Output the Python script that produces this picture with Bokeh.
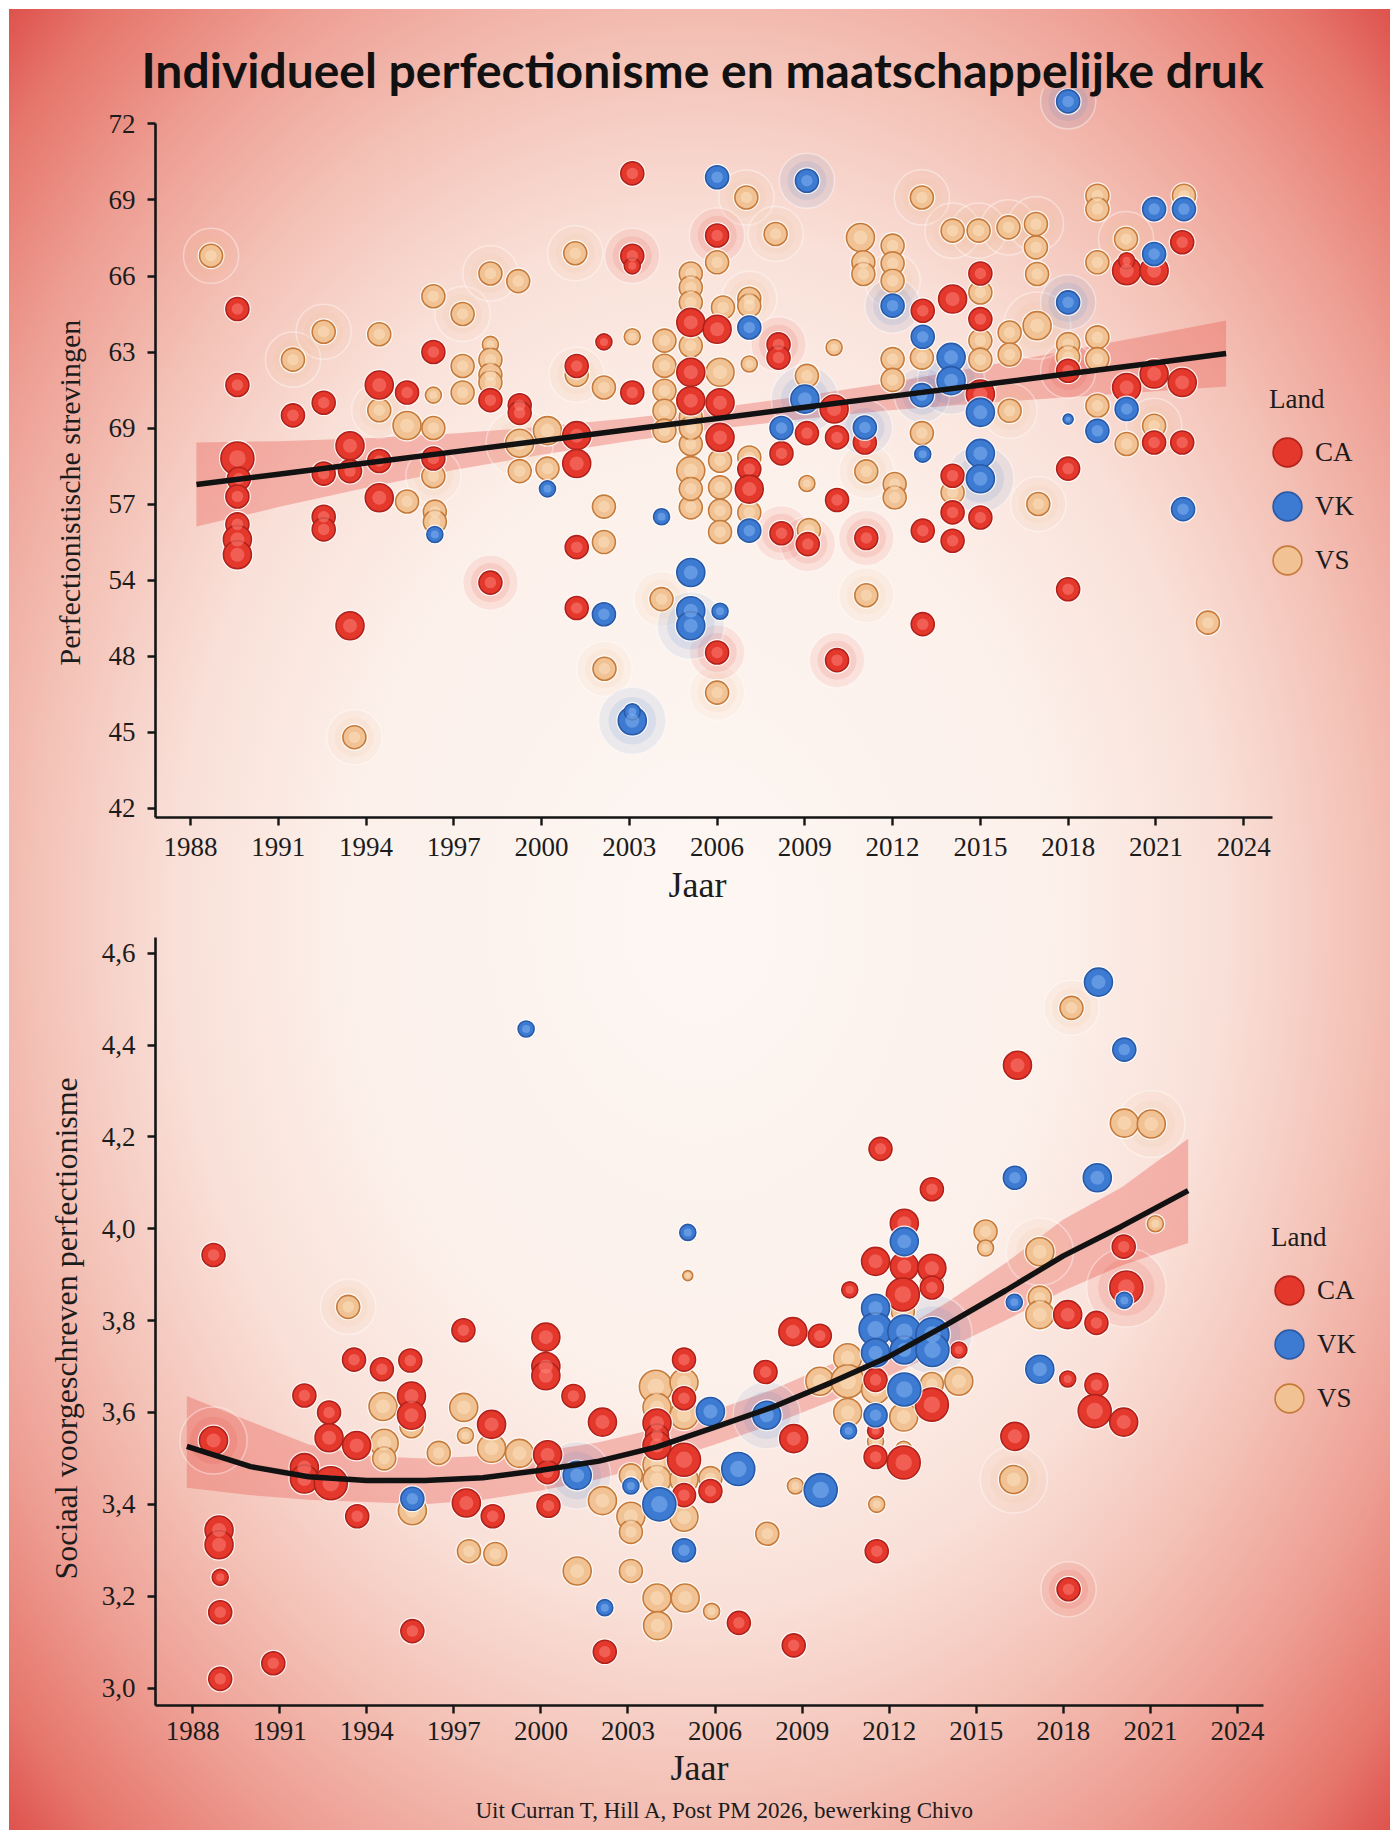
from bokeh.plotting import figure
from bokeh.models import (ColumnDataSource, Range1d, FixedTicker, CustomJSTickFormatter,
                          Legend, LegendItem, Title)
from bokeh.layouts import column
from bokeh.embed import file_html
from bokeh.resources import INLINE

# ------------------------------------------------------------------
# Data
# ------------------------------------------------------------------
TITLE = "Individueel perfectionisme en maatschappelijke druk"
FOOTER = "Uit Curran T, Hill A, Post PM 2026, bewerking Chivo"
X_LABEL = "Jaar"
Y_LABEL_TOP = "Perfectionistische strevingen"
Y_LABEL_BOTTOM = "Sociaal voorgeschreven perfectionisme"
LEGEND_TITLE = "Land"
LANDS = ["CA", "VK", "VS"]

x_ticks = [1988, 1991, 1994, 1997, 2000, 2003, 2006, 2009, 2012, 2015, 2018, 2021, 2024]
y_ticks_top = [72, 69, 66, 63, 60, 57, 54, 51, 48, 45]
y_tick_labels_top = ["72", "69", "66", "63", "69", "57", "54", "48", "45", "42"]
y_ticks_bottom = [3.0, 3.2, 3.4, 3.6, 3.8, 4.0, 4.2, 4.4, 4.6]

# top panel: year, score, country, sample-size class (0..4), halo flag
top_year = [
    1988.7, 1989.6, 1989.6, 1989.6, 1989.65, 1989.6, 1989.6, 1989.6, 1989.6,
    1991.5, 1991.5, 1992.55, 1992.55, 1992.55, 1992.55, 1992.55, 1993.45, 1993.45, 1993.45, 1993.6,
    1994.45, 1994.45, 1994.45, 1994.45, 1994.45, 1995.4, 1995.4, 1995.4,
    1996.3, 1996.3, 1996.3, 1996.3, 1996.3, 1996.3, 1996.35, 1996.35, 1996.35,
    1997.3, 1997.3, 1997.3, 1998.25, 1998.25, 1998.25, 1998.25, 1998.25, 1998.25, 1998.25,
    1999.2, 1999.25, 1999.25, 1999.25, 1999.25,
    2000.2, 2000.2, 2000.2, 2001.2, 2001.2, 2001.15, 2001.2, 2001.2, 2001.2, 2001.2,
    2002.13, 2002.13, 2002.13, 2002.13, 2002.13, 2002.15,
    2003.1, 2003.1, 2003.1, 2003.1, 2003.1, 2003.1, 2003.1,
    2004.1, 2004.1, 2004.2, 2004.2, 2004.2, 2004.2, 2004.2,
    2005.1, 2005.1, 2005.1, 2005.1, 2005.1, 2005.1, 2005.1, 2005.1, 2005.1, 2005.1,
    2005.1, 2005.1, 2005.1, 2005.1, 2005.1, 2005.1,
    2006.0, 2006.0, 2006.0, 2006.2, 2006.0, 2006.1, 2006.1, 2006.1, 2006.1, 2006.1,
    2006.1, 2006.1, 2006.1, 2006.0, 2006.0,
    2007.0, 2007.1, 2007.1, 2007.1, 2007.1, 2007.1, 2007.1, 2007.1, 2007.1, 2007.1,
    2008.0, 2008.1, 2008.1, 2008.2, 2008.2, 2008.2,
    2009.07, 2009.07, 2009.0, 2009.07, 2009.07, 2009.14, 2009.1,
    2010.0, 2010.0, 2010.1, 2010.1, 2010.1,
    2010.9, 2011.0, 2011.0, 2011.05, 2011.05, 2011.1, 2011.1, 2011.1,
    2012.0, 2012.0, 2012.0, 2012.0, 2012.0, 2012.07, 2012.07, 2012.0,
    2013.0, 2013.03, 2013.03, 2013.0, 2013.03, 2013.03, 2013.03, 2013.0, 2013.0,
    2014.05, 2014.05, 2014.0, 2014.0, 2014.05, 2014.05, 2014.05, 2014.05,
    2014.94, 2015.0, 2015.0, 2015.0, 2015.0, 2015.0, 2015.0, 2015.0, 2015.0, 2015.0, 2015.0,
    2015.96, 2016.0, 2016.0, 2016.0,
    2016.9, 2016.9, 2016.94, 2016.94, 2016.98,
    2018.0, 2018.0, 2018.0, 2018.0, 2018.0, 2018.0, 2018.0, 2018.0,
    2019.0, 2019.0, 2019.0, 2019.0, 2019.0, 2019.0, 2019.0,
    2019.98, 2020.0, 2020.0, 2020.0, 2020.0, 2020.0,
    2020.94, 2020.94, 2020.94, 2020.94, 2020.94, 2020.94,
    2021.96, 2021.96, 2021.9, 2021.9, 2021.9, 2021.93, 2022.78,
]
top_score = [
    66.8, 64.7, 61.7, 58.8, 58.0, 57.3, 56.2, 55.6, 55.0,
    62.7, 60.5, 63.8, 61.0, 58.2, 56.5, 56.0, 59.3, 58.3, 52.2, 47.8,
    63.7, 61.7, 60.7, 58.7, 57.25, 61.4, 60.1, 57.1,
    65.2, 63.0, 61.3, 60.0, 58.8, 58.1, 56.7, 56.3, 55.8,
    64.5, 62.45, 61.4, 66.1, 63.3, 62.7, 62.1, 61.8, 61.1, 53.9,
    65.8, 60.9, 60.6, 59.4, 58.3,
    59.9, 58.4, 57.6, 59.7, 58.6, 66.9, 62.45, 62.1, 55.3, 52.9,
    61.6, 63.4, 56.9, 55.5, 52.65, 50.5,
    70.05, 66.8, 66.4, 63.6, 61.4, 48.45, 48.8,
    53.25, 56.5, 63.45, 62.46, 61.47, 60.68, 59.9,
    66.1, 65.55, 64.96, 64.17, 63.25, 62.2, 61.08, 60.42, 59.37, 58.32,
    56.87, 54.3, 52.79, 52.2, 60.0, 57.6,
    69.9, 67.6, 66.54, 64.76, 63.9, 62.2, 61.0, 59.63, 58.71, 57.66,
    56.74, 55.9, 52.77, 51.14, 49.56,
    69.1, 65.1, 64.83, 63.97, 62.53, 58.84, 58.38, 57.59, 56.67, 55.95,
    67.66, 63.3, 62.78, 60.0, 59.0, 55.85,
    69.76, 62.06, 61.14, 59.8, 57.81, 55.97, 55.42,
    63.18, 60.75, 59.63, 57.16, 50.84,
    67.52, 66.54, 66.08, 60.02, 59.43, 58.29, 55.66, 53.4,
    67.2, 66.5, 65.81, 64.83, 62.72, 57.79, 57.26, 61.9,
    69.1, 64.63, 63.6, 62.78, 58.97, 55.95, 52.26, 61.3, 59.8,
    67.79, 65.09, 62.79, 61.87, 58.12, 57.46, 56.67, 55.55,
    67.79, 66.1, 65.35, 64.3, 63.45, 61.34, 60.62, 59.0, 58.0, 56.47, 62.7,
    67.92, 63.77, 60.68, 62.9,
    68.05, 67.13, 66.08, 64.04, 57.0,
    72.89, 64.96, 63.31, 62.26, 60.35, 58.4, 53.64, 62.8,
    69.17, 68.64, 66.54, 63.58, 62.72, 60.88, 59.89,
    67.46, 66.21, 61.6, 60.75, 59.37, 66.6,
    68.64, 66.87, 66.21, 62.13, 60.09, 59.43,
    69.17, 68.64, 67.33, 61.8, 59.43, 56.8, 52.32,
]
top_land = [
    "VS", "CA", "CA", "CA", "CA", "CA", "CA", "CA", "CA",
    "VS", "CA", "VS", "CA", "CA", "CA", "CA", "CA", "CA", "CA", "VS",
    "VS", "CA", "VS", "CA", "CA", "CA", "VS", "VS",
    "VS", "CA", "VS", "VS", "CA", "VS", "VS", "VS", "VK",
    "VS", "VS", "VS", "VS", "VS", "VS", "VS", "VS", "CA", "CA",
    "VS", "CA", "CA", "VS", "VS",
    "VS", "VS", "VK", "CA", "CA", "VS", "CA", "VS", "CA", "CA",
    "VS", "CA", "VS", "VS", "VK", "VS",
    "CA", "CA", "CA", "VS", "CA", "VK", "VK",
    "VS", "VK", "VS", "VS", "VS", "VS", "VS",
    "VS", "VS", "VS", "CA", "VS", "CA", "CA", "VS", "VS", "VS",
    "VS", "VK", "VK", "VK", "VS", "VS",
    "VK", "CA", "VS", "VS", "CA", "VS", "CA", "CA", "VS", "VS",
    "VS", "VS", "VK", "CA", "VS",
    "VS", "VS", "VS", "VK", "VS", "VS", "CA", "CA", "VS", "VK",
    "VS", "CA", "CA", "VK", "CA", "CA",
    "VK", "VS", "VK", "CA", "VS", "VS", "CA",
    "VS", "CA", "CA", "CA", "CA",
    "VS", "VS", "VS", "VK", "CA", "VS", "CA", "VS",
    "VS", "VS", "VS", "VK", "VS", "VS", "VS", "VS",
    "VS", "CA", "VK", "VS", "VK", "CA", "CA", "VK", "VS",
    "VS", "CA", "VK", "VK", "CA", "VS", "CA", "CA",
    "VS", "CA", "VS", "CA", "VS", "CA", "VK", "VK", "VK", "CA", "VS",
    "VS", "VS", "VS", "VS",
    "VS", "VS", "VS", "VS", "VS",
    "VK", "VK", "VS", "CA", "VK", "CA", "CA", "VS",
    "VS", "VS", "VS", "VS", "VS", "VS", "VK",
    "VS", "CA", "CA", "VK", "VS", "CA",
    "VK", "VK", "CA", "CA", "VS", "CA",
    "VS", "VK", "CA", "CA", "CA", "VK", "VS",
]
top_n = [
    2, 2, 2, 4, 2, 2, 2, 3, 3,
    2, 2, 2, 2, 2, 2, 2, 3, 2, 3, 2,
    2, 3, 2, 2, 3, 2, 3, 2,
    2, 2, 1, 2, 2, 2, 2, 2, 1,
    2, 2, 2, 2, 1, 2, 2, 2, 2, 2,
    2, 2, 2, 3, 2,
    3, 2, 1, 3, 3, 2, 2, 2, 2, 2,
    2, 1, 2, 2, 2, 2,
    2, 2, 1, 1, 2, 3, 1,
    2, 1, 2, 2, 2, 2, 2,
    2, 2, 2, 3, 2, 3, 3, 2, 2, 3,
    2, 3, 3, 3, 2, 2,
    2, 2, 2, 2, 3, 3, 3, 3, 2, 2,
    2, 2, 1, 2, 2,
    2, 2, 2, 2, 1, 2, 2, 3, 2, 2,
    2, 2, 2, 2, 2, 2,
    2, 2, 3, 2, 1, 2, 2,
    1, 3, 2, 2, 2,
    3, 2, 2, 2, 2, 2, 2, 2,
    2, 2, 2, 2, 2, 2, 2, 2,
    2, 2, 2, 2, 1, 2, 2, 2, 2,
    2, 3, 3, 3, 2, 2, 2, 2,
    2, 2, 2, 2, 2, 3, 3, 3, 3, 2, 2,
    2, 2, 2, 2,
    2, 2, 2, 3, 2,
    2, 2, 2, 2, 0, 2, 2, 2,
    2, 2, 2, 2, 2, 2, 2,
    2, 3, 3, 2, 2, 1,
    2, 2, 3, 3, 2, 2,
    2, 2, 2, 3, 2, 2, 2,
]
top_halo = [
    1, 0, 0, 0, 0, 0, 0, 0, 0,
    1, 0, 1, 0, 0, 0, 0, 0, 0, 0, 1,
    0, 0, 1, 0, 0, 0, 0, 0,
    0, 0, 0, 0, 0, 1, 0, 0, 0,
    1, 0, 0, 1, 0, 0, 0, 0, 0, 1,
    0, 0, 0, 1, 0,
    0, 0, 0, 0, 0, 1, 0, 1, 0, 0,
    0, 0, 0, 0, 0, 1,
    0, 1, 0, 0, 0, 1, 0,
    1, 0, 0, 0, 0, 0, 0,
    0, 0, 0, 0, 0, 0, 0, 0, 0, 0,
    0, 0, 0, 1, 0, 0,
    0, 1, 0, 0, 0, 0, 0, 0, 0, 0,
    0, 0, 0, 1, 1,
    1, 1, 0, 0, 0, 0, 0, 0, 0, 0,
    1, 1, 0, 0, 0, 1,
    1, 0, 1, 0, 0, 0, 1,
    0, 0, 0, 0, 1,
    0, 0, 0, 1, 0, 1, 1, 1,
    0, 0, 1, 1, 0, 0, 0, 0,
    1, 0, 0, 0, 0, 0, 0, 1, 0,
    1, 0, 0, 1, 0, 0, 0, 0,
    1, 0, 0, 0, 0, 0, 0, 0, 1, 0, 0,
    1, 0, 1, 0,
    1, 0, 0, 1, 1,
    1, 1, 0, 1, 0, 0, 0, 0,
    0, 0, 0, 0, 0, 0, 0,
    1, 0, 0, 0, 0, 0,
    0, 0, 0, 0, 1, 0,
    0, 0, 0, 0, 0, 0, 0,
]

# top trend line and confidence band
trend_top_year = [1988.2, 1991, 1994, 1997, 2000, 2003, 2006, 2009, 2012, 2015, 2018, 2021, 2023.4]
trend_top_fit = [57.77, 58.18, 58.62, 59.06, 59.50, 59.94, 60.38, 60.82, 61.26, 61.70, 62.14, 62.58, 62.94]
trend_top_lo = [56.11, 56.88, 57.64, 58.34, 58.95, 59.49, 59.96, 60.37, 60.71, 60.98, 61.22, 61.45, 61.64]
trend_top_hi = [59.43, 59.48, 59.60, 59.78, 60.05, 60.39, 60.80, 61.27, 61.81, 62.42, 63.06, 63.71, 64.24]

# bottom panel
bot_year = [
    1988.72, 1988.72, 1988.91, 1988.91, 1988.95, 1988.95, 1988.95, 1990.78,
    1991.85, 1991.85, 1991.85, 1992.7, 1992.7, 1992.76, 1993.36, 1993.56, 1993.65, 1993.67,
    1994.52, 1994.56, 1994.6, 1994.6, 1995.5, 1995.54, 1995.54, 1995.54, 1995.57, 1995.57, 1995.57,
    1996.48, 1997.33, 1997.34, 1997.4, 1997.43, 1997.52, 1998.3, 1998.3, 1998.34, 1998.43,
    1999.26, 1999.49, 2000.17, 2000.17, 2000.17, 2000.23, 2000.23, 2000.26,
    2001.12, 2001.25, 2001.25, 2002.12, 2002.12, 2002.2, 2002.2,
    2003.1, 2003.1, 2003.1, 2003.1, 2003.1,
    2003.96, 2004.0, 2004.0, 2004.0, 2004.0, 2004.0, 2004.0, 2004.08, 2004.0, 2004.02,
    2004.93, 2004.93, 2004.93, 2004.93, 2004.93, 2004.93, 2004.93, 2004.93, 2004.93, 2004.97,
    2005.06, 2005.06, 2005.84, 2005.84, 2005.84, 2005.88,
    2006.8, 2006.82, 2007.74, 2007.78, 2007.8,
    2008.68, 2008.71, 2008.77, 2008.71, 2009.61, 2009.61, 2009.64,
    2010.57, 2010.57, 2010.57, 2010.6, 2010.64,
    2011.53, 2011.53, 2011.53, 2011.53, 2011.53, 2011.53, 2011.53, 2011.53, 2011.53, 2011.53,
    2011.57, 2011.57, 2011.7,
    2012.52, 2012.52, 2012.52, 2012.47, 2012.47, 2012.52, 2012.52, 2012.52, 2012.5, 2012.5, 2012.5,
    2013.47, 2013.47, 2013.47, 2013.47, 2013.49, 2013.49, 2013.47, 2013.47,
    2014.4, 2014.4, 2015.32, 2015.32,
    2016.31, 2016.33, 2016.33, 2016.29, 2016.42,
    2017.19, 2017.19, 2017.19, 2017.19,
    2018.15, 2018.15, 2018.18, 2018.28,
    2019.14, 2019.14, 2019.08, 2019.17, 2019.21,
    2020.08, 2020.17, 2020.1, 2020.08, 2020.1, 2020.1,
    2021.03, 2021.17,
]
bot_score = [
    3.943, 3.539, 3.344, 3.312, 3.241, 3.165, 3.02, 3.054,
    3.637, 3.48, 3.455, 3.60, 3.545, 3.446, 3.83, 3.715, 3.528, 3.374,
    3.694, 3.613, 3.533, 3.50, 3.713, 3.636, 3.594, 3.57, 3.412, 3.386, 3.124,
    3.512, 3.779, 3.611, 3.55, 3.403, 3.298, 3.574, 3.522, 3.374, 3.292,
    3.511, 4.435, 3.764, 3.70, 3.68, 3.508, 3.47, 3.397,
    3.636, 3.463, 3.255, 3.579, 3.408, 3.175, 3.079,
    3.463, 3.44, 3.374, 3.34, 3.255,
    3.656, 3.611, 3.577, 3.55, 3.528, 3.486, 3.454, 3.40, 3.196, 3.136,
    3.715, 3.665, 3.631, 3.594, 3.497, 3.454, 3.42, 3.372, 3.30, 3.196,
    3.992, 3.898, 3.602, 3.457, 3.429, 3.167,
    3.477, 3.142, 3.688, 3.594, 3.336,
    3.776, 3.543, 3.44, 3.093, 3.767, 3.668, 3.431,
    3.719, 3.668, 3.6, 3.56, 3.867,
    3.929, 3.827, 3.781, 3.73, 3.671, 3.65, 3.594, 3.56, 3.537, 3.503,
    3.40, 3.298, 4.174,
    4.012, 3.972, 3.918, 3.857, 3.82, 3.776, 3.736, 3.65, 3.59, 3.52, 3.491,
    4.086, 3.914, 3.884, 3.872, 3.77, 3.736, 3.662, 3.617,
    3.736, 3.668, 3.994, 3.958,
    3.84, 4.111, 3.548, 3.454, 4.356,
    3.95, 3.85, 3.813, 3.694,
    3.813, 3.673, 3.215, 4.481,
    3.795, 3.66, 3.603, 4.111, 4.537,
    3.961, 3.872, 3.844, 3.579, 4.39, 4.23,
    4.228, 4.011,
]
bot_land = [
    "CA", "CA", "CA", "CA", "CA", "CA", "CA", "CA",
    "CA", "CA", "CA", "CA", "CA", "CA", "VS", "CA", "CA", "CA",
    "CA", "VS", "VS", "VS", "CA", "CA", "CA", "VS", "VK", "VS", "CA",
    "VS", "CA", "VS", "VS", "CA", "VS", "CA", "VS", "CA", "VS",
    "VS", "VK", "CA", "CA", "CA", "CA", "CA", "CA",
    "CA", "VK", "VS", "CA", "VS", "VK", "CA",
    "VS", "VK", "VS", "VS", "VS",
    "VS", "VS", "CA", "CA", "CA", "VS", "VS", "VK", "VS", "VS",
    "CA", "VS", "CA", "VS", "CA", "VS", "CA", "VS", "VK", "VS",
    "VK", "VS", "VK", "VS", "CA", "VS",
    "VK", "CA", "CA", "VK", "VS",
    "CA", "CA", "VS", "CA", "CA", "VS", "VK",
    "VS", "VS", "VS", "VK", "CA",
    "CA", "VK", "VK", "VK", "CA", "VS", "VK", "CA", "VS", "CA",
    "VS", "CA", "CA",
    "CA", "VK", "CA", "CA", "VS", "VK", "VK", "VK", "VS", "VS", "CA",
    "CA", "CA", "VS", "CA", "VK", "VK", "VS", "CA",
    "CA", "VS", "VS", "VS",
    "VK", "VK", "CA", "VS", "CA",
    "VS", "VS", "VS", "VK",
    "CA", "CA", "CA", "VS",
    "CA", "CA", "CA", "VK", "VK",
    "CA", "CA", "VK", "CA", "VK", "VS",
    "VS", "VS",
]
bot_n = [
    2, 3, 3, 3, 1, 2, 2, 2,
    2, 3, 3, 2, 3, 4, 2, 2, 3, 2,
    2, 3, 3, 2, 2, 3, 3, 2, 2, 3, 2,
    2, 2, 3, 1, 3, 2, 3, 3, 2, 2,
    3, 1, 3, 3, 3, 3, 2, 2,
    2, 3, 3, 3, 3, 1, 2,
    2, 1, 3, 2, 2,
    4, 3, 3, 2, 3, 3, 3, 4, 3, 3,
    2, 3, 2, 3, 4, 3, 2, 3, 2, 3,
    1, 0, 3, 2, 2, 1,
    4, 2, 2, 3, 2,
    3, 3, 1, 2, 2, 3, 4,
    3, 4, 3, 1, 1,
    3, 3, 4, 3, 2, 3, 2, 1, 1, 2,
    1, 2, 2,
    3, 3, 3, 4, 2, 4, 3, 4, 3, 1, 4,
    2, 3, 2, 2, 4, 4, 2, 4,
    1, 3, 2, 1,
    1, 2, 3, 3, 3,
    3, 2, 3, 3,
    3, 1, 2, 2,
    2, 2, 4, 3, 3,
    2, 4, 1, 3, 2, 3,
    3, 1,
]
bot_halo = [
    0, 1, 0, 0, 0, 0, 0, 0,
    0, 0, 0, 0, 0, 0, 1, 0, 0, 0,
    0, 0, 0, 0, 0, 0, 0, 0, 0, 0, 0,
    0, 0, 0, 0, 0, 0, 0, 0, 0, 0,
    0, 0, 0, 0, 0, 0, 0, 0,
    0, 1, 0, 0, 0, 0, 0,
    0, 0, 0, 0, 0,
    0, 0, 0, 0, 0, 0, 0, 0, 0, 0,
    0, 0, 0, 0, 0, 0, 0, 0, 0, 0,
    0, 0, 0, 0, 0, 0,
    0, 0, 0, 1, 0,
    0, 0, 0, 0, 0, 0, 0,
    0, 0, 0, 0, 0,
    0, 0, 0, 0, 0, 0, 0, 0, 0, 0,
    0, 0, 0,
    0, 0, 0, 0, 0, 0, 0, 0, 0, 0, 0,
    0, 0, 0, 0, 1, 0, 0, 0,
    0, 0, 0, 0,
    0, 0, 0, 1, 0,
    1, 0, 0, 0,
    0, 0, 1, 1,
    0, 0, 0, 0, 0,
    0, 1, 0, 0, 0, 0,
    1, 0,
]

trend_bot_year = [1987.8, 1990, 1992, 1994, 1996, 1998, 2000, 2002, 2004, 2006, 2008, 2010,
                  2012, 2014, 2016, 2018, 2020, 2022.3]
trend_bot_fit = [3.526, 3.482, 3.460, 3.452, 3.452, 3.458, 3.474, 3.494, 3.525, 3.568, 3.612,
                 3.665, 3.722, 3.792, 3.865, 3.941, 4.005, 4.083]
trend_bot_lo = [3.436, 3.420, 3.410, 3.405, 3.400, 3.410, 3.430, 3.455, 3.490, 3.530, 3.575,
                3.625, 3.680, 3.740, 3.800, 3.865, 3.920, 3.969]
trend_bot_hi = [3.636, 3.580, 3.530, 3.505, 3.500, 3.505, 3.515, 3.535, 3.565, 3.605, 3.650,
                3.705, 3.765, 3.840, 3.925, 4.020, 4.090, 4.196]

# ------------------------------------------------------------------
# Styling
# ------------------------------------------------------------------
SERIF = "Liberation Serif"
SIZE_PX = {0: 10, 1: 16, 2: 23, 3: 28, 4: 33}
STYLE = {
    "CA": dict(fill="#e5382d", rim="#b0221a", light="#ff8f82"),
    "VK": dict(fill="#3d7bd3", rim="#2a59a5", light="#93bdf3"),
    "VS": dict(fill="#f1c293", rim="#c67b3c", light="#fde8cf"),
}
DRAW_ORDER = ["VS", "CA", "VK"]
GRADIENT = ("radial-gradient(ellipse farthest-corner at 50% 50%, "
            "#fdf7f3 0%, #fcf0ea 36%, #f9e0d8 53%, #f4c2b7 67%, #ee9f94 80%, "
            "#e6766c 92%, #dc4c47 100%)")
WHITE_EDGE = "inset 9px 9px 0 0 #ffffff, inset -10px -11px 0 0 #ffffff"
PAGE_W = 1400
FRAME_RIGHT = 1385


def build_sources(years, scores, land, nclass, halo, code):
    idx = [i for i, l in enumerate(land) if l == code]
    size = [SIZE_PX[nclass[i]] for i in idx]
    main = ColumnDataSource(dict(
        x=[years[i] for i in idx], y=[scores[i] for i in idx], size=size,
        ring=[s + 4 for s in size], hl=[s * 0.5 for s in size]))
    hidx = [i for i in idx if halo[i]]
    hs = [SIZE_PX[nclass[i]] for i in hidx]
    hal = ColumnDataSource(dict(
        x=[years[i] for i in hidx], y=[scores[i] for i in hidx],
        outer=[s * 2.4 for s in hs], inner=[s * 1.7 for s in hs]))
    return main, hal


def draw_points(p, years, scores, land, nclass, halo):
    srcs = {c: build_sources(years, scores, land, nclass, halo, c) for c in DRAW_ORDER}
    for c in DRAW_ORDER:
        st = STYLE[c]
        _, hal = srcs[c]
        p.scatter("x", "y", source=hal, size="outer", fill_color=st["fill"], fill_alpha=0.09,
                  line_color="white", line_alpha=0.4, line_width=1.5)
        p.scatter("x", "y", source=hal, size="inner", fill_color=st["fill"], fill_alpha=0.11,
                  line_color=None)
    mains = {}
    for c in DRAW_ORDER:
        st = STYLE[c]
        src, _ = srcs[c]
        p.scatter("x", "y", source=src, size="ring", fill_color="white", fill_alpha=0.85,
                  line_color=None)
        r = p.ellipse(x="x", y="y", width="size", height="size", width_units="screen",
                      height_units="screen", source=src, fill_color=st["fill"],
                      line_color=st["rim"], line_width=1.6)
        p.scatter("x", "y", source=src, size="hl", fill_color=st["light"], fill_alpha=0.45,
                  line_color=None)
        mains[c] = r
    return mains


def style_axes(p, label_standoff_x):
    for ax in (p.xaxis[0], p.yaxis[0]):
        ax.axis_line_width = 2.6
        ax.axis_line_color = "#151515"
        ax.major_tick_line_width = 2.4
        ax.major_tick_line_color = "#151515"
        ax.major_tick_out = 8
        ax.major_tick_in = 0
        ax.minor_tick_line_color = None
        ax.major_label_text_font = SERIF
        ax.major_label_text_font_size = "27px"
        ax.major_label_text_color = "#1c1c1c"
    p.xaxis[0].major_label_standoff = label_standoff_x
    p.yaxis[0].major_label_standoff = 12
    p.xgrid.visible = False
    p.ygrid.visible = False
    p.background_fill_alpha = 0
    p.border_fill_alpha = 0
    p.outline_line_color = None


def add_x_label(p, frame_left, standoff):
    # x-axis title under the axis line (centred on the axis, not on the legend area)
    t = Title(text=X_LABEL, align="left", offset=668 - frame_left, standoff=standoff,
              text_font=SERIF, text_font_size="36px", text_font_style="normal",
              text_color="#1c1c1c")
    p.add_layout(t, "below")


def add_y_label(p, text, size, offset, standoff):
    t = Title(text=text, align="left", offset=offset, standoff=standoff, text_font=SERIF,
              text_font_size=size, text_font_style="normal", text_color="#1c1c1c")
    p.add_layout(t, "left")


def add_legend(p, mains, loc):
    items = [LegendItem(label=c, renderers=[mains[c]]) for c in LANDS]
    lg = Legend(items=items, title=LEGEND_TITLE, location=loc)
    lg.background_fill_alpha = 0
    lg.border_line_color = None
    lg.label_text_font = SERIF
    lg.label_text_font_size = "27px"
    lg.label_text_color = "#1c1c1c"
    lg.title_text_font = SERIF
    lg.title_text_font_size = "27px"
    lg.title_text_font_style = "normal"
    lg.title_text_color = "#1c1c1c"
    lg.title_standoff = 10
    lg.glyph_width = 36
    lg.glyph_height = 54
    lg.spacing = 0
    lg.label_standoff = 10
    lg.padding = 0
    lg.margin = 0
    p.add_layout(lg)


# ------------------------------------------------------------------
# Top figure
# ------------------------------------------------------------------
p1 = figure(width=PAGE_W, height=925, x_range=Range1d(1986.8, 2028.85), y_range=Range1d(44.63, 73.4),
            output_backend="svg", toolbar_location=None,
            min_border_left=155, min_border_right=PAGE_W - FRAME_RIGHT, min_border_top=88,
            min_border_bottom=108)
p1.title.text = TITLE
p1.title.text_font = "Lato"
p1.title.text_font_size = "48px"
p1.title.text_font_style = "bold"
p1.title.text_color = "#111111"
p1.title.align = "left"
p1.title.offset = -14
p1.title.standoff = -18

p1.varea(x=trend_top_year, y1=trend_top_lo, y2=trend_top_hi, fill_color="#e8574c", fill_alpha=0.35)
mains1 = draw_points(p1, top_year, top_score, top_land, top_n, top_halo)
p1.line(x=trend_top_year, y=trend_top_fit, line_color="#121212", line_width=5.5)

style_axes(p1, 12)
p1.xaxis[0].ticker = FixedTicker(ticks=x_ticks)
p1.yaxis[0].ticker = FixedTicker(ticks=y_ticks_top)
p1.yaxis[0].formatter = CustomJSTickFormatter(
    args=dict(tick_values=y_ticks_top, tick_texts=y_tick_labels_top),
    code="const i = tick_values.indexOf(tick); return i >= 0 ? tick_texts[i] : '';")
p1.xaxis[0].bounds = (1986.8, 2025.0)
p1.yaxis[0].bounds = (44.63, 72.0)
add_y_label(p1, Y_LABEL_TOP, "30px", 152, 39)
add_x_label(p1, 155, 8)
add_legend(p1, mains1, (1269 - 155, 230))

# ------------------------------------------------------------------
# Bottom figure
# ------------------------------------------------------------------
p2 = figure(width=PAGE_W, height=916, x_range=Range1d(1986.72, 2029.1), y_range=Range1d(2.962, 4.645),
            output_backend="svg", toolbar_location=None,
            min_border_left=153, min_border_right=PAGE_W - FRAME_RIGHT, min_border_top=7,
            min_border_bottom=136)
p2.varea(x=trend_bot_year, y1=trend_bot_lo, y2=trend_bot_hi, fill_color="#e8574c", fill_alpha=0.35)
mains2 = draw_points(p2, bot_year, bot_score, bot_land, bot_n, bot_halo)
p2.line(x=trend_bot_year, y=trend_bot_fit, line_color="#121212", line_width=5.5)

style_axes(p2, 8)
p2.xaxis[0].ticker = FixedTicker(ticks=x_ticks)
p2.yaxis[0].ticker = FixedTicker(ticks=y_ticks_bottom)
p2.yaxis[0].formatter = CustomJSTickFormatter(code="return tick.toFixed(1).replace('.', ',');")
p2.xaxis[0].bounds = (1986.72, 2024.91)
p2.yaxis[0].bounds = (2.962, 4.634)
add_y_label(p2, Y_LABEL_BOTTOM, "32px", 126, 29)
add_x_label(p2, 153, 7)
add_legend(p2, mains2, (1269 - 153, 280))

foot = Title(text=FOOTER, align="left", text_font=SERIF, text_font_size="23px",
             text_font_style="normal", text_color="#1c1c1c", offset=473 - 153, standoff=8)
p2.add_layout(foot, "below")

layout = column(p1, p2, styles={"background": GRADIENT, "box-shadow": WHITE_EDGE})

with open("out.html", "w") as f:
    f.write(file_html(layout, INLINE, title="Individueel perfectionisme"))
